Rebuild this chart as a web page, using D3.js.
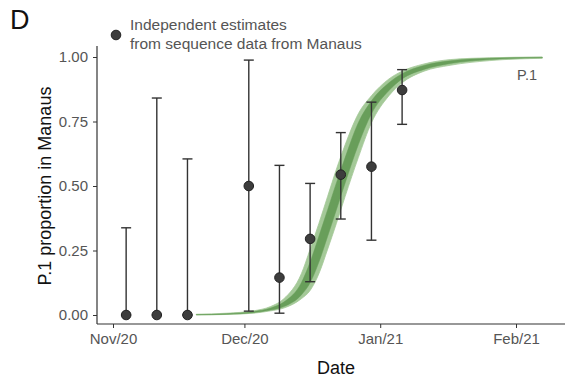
<!DOCTYPE html>
<html><head><meta charset="utf-8">
<script src="https://cdn.jsdelivr.net/npm/d3@7"></script>
<style>body{margin:0;background:#fff;} text{font-family:"Liberation Sans",Arial,sans-serif;}</style>
</head><body><svg id="c" width="568" height="378"></svg>
<script>
// Observed estimates (weekly)
const obsDates = ["2020-11-04","2020-11-11","2020-11-18","2020-12-02","2020-12-09","2020-12-16","2020-12-23","2020-12-30","2021-01-06"];
const obsValue = [0, 0, 0, 0.50, 0.145, 0.295, 0.544, 0.575, 0.872];
const obsLower = [0, 0, 0, 0.015, 0.007, 0.129, 0.372, 0.29, 0.739];
const obsUpper = [0.338, 0.841, 0.605, 0.988, 0.58, 0.51, 0.707, 0.825, 0.951];

// Model fit for P.1
const fitDates = ["2020-11-20","2020-11-27","2020-12-03","2020-12-07","2020-12-10","2020-12-14","2020-12-16","2020-12-18","2020-12-20","2020-12-22","2020-12-24","2020-12-27","2020-12-30","2021-01-03","2021-01-06","2021-01-11","2021-01-17","2021-01-26","2021-02-07"];
const fitLo95 = [0.0003,0.002,0.007,0.016,0.027,0.063,0.095,0.16,0.255,0.355,0.46,0.61,0.745,0.85,0.90,0.945,0.968,0.986,0.995];
const fitHi95 = [0.003,0.007,0.016,0.033,0.063,0.16,0.255,0.355,0.46,0.565,0.66,0.78,0.85,0.915,0.945,0.973,0.99,0.997,1.0];
const fitLo50 = [0.0007,0.003,0.009,0.019,0.033,0.078,0.125,0.205,0.305,0.408,0.512,0.66,0.78,0.87,0.915,0.952,0.975,0.990,0.997];
const fitHi50 = [0.0015,0.005,0.013,0.027,0.050,0.125,0.205,0.305,0.408,0.512,0.61,0.745,0.83,0.90,0.935,0.967,0.985,0.995,0.999];

const xTickDates = ["2020-11-01","2020-12-01","2021-01-01","2021-02-01"];
const xTickLabels = ["Nov/20","Dec/20","Jan/21","Feb/21"];
const yTicks = [0, 0.25, 0.5, 0.75, 1.0];

const parse = d3.utcParse("%Y-%m-%d");
const svg = d3.select("#c");
const panel = {left: 97, right: 565, top: 46, bottom: 324};
const FONT = "Liberation Sans, Arial, sans-serif";

const x = d3.scaleUtc().domain([parse("2020-11-01"), parse("2021-02-01")]).range([113, 516]);
const y = d3.scaleLinear().domain([0, 1]).range([315, 57]);

// Fit bands
const fit = fitDates.map((d,i)=>({d:parse(d), lo95:fitLo95[i], hi95:fitHi95[i], lo50:fitLo50[i], hi50:fitHi50[i]}));
const area95 = d3.area().x(d=>x(d.d)).y0(d=>y(d.lo95)).y1(d=>y(d.hi95)).curve(d3.curveMonotoneX);
const area50 = d3.area().x(d=>x(d.d)).y0(d=>y(d.lo50)).y1(d=>y(d.hi50)).curve(d3.curveMonotoneX);
svg.append("path").datum(fit).attr("d", area95).attr("fill", "#a4c998").attr("stroke","#a4c998").attr("stroke-width",0.8);
svg.append("path").datum(fit).attr("d", area50).attr("fill", "#689e5a").attr("stroke","#689e5a").attr("stroke-width",0.5);

// Axes lines
const axCol = "#333";
svg.append("line").attr("x1",panel.left).attr("x2",panel.left).attr("y1",panel.top).attr("y2",panel.bottom).attr("stroke",axCol).attr("stroke-width",1.2);
svg.append("line").attr("x1",panel.left).attr("x2",panel.right).attr("y1",panel.bottom).attr("y2",panel.bottom).attr("stroke",axCol).attr("stroke-width",1.2);

// Y axis
const yAxis = d3.axisLeft(y).tickValues(yTicks).tickFormat(d3.format(".2f")).tickSize(4).tickPadding(5);
const gy = svg.append("g").attr("transform",`translate(${panel.left},0)`).call(yAxis);
gy.select(".domain").remove();
gy.selectAll(".tick line").attr("stroke",axCol);
gy.selectAll(".tick text").attr("fill","#555").attr("font-size",15).attr("font-family",FONT);

// X axis
const xAxis = d3.axisBottom(x).tickValues(xTickDates.map(parse)).tickFormat((d,i)=>xTickLabels[i]).tickSize(4).tickPadding(5);
const gx = svg.append("g").attr("transform",`translate(0,${panel.bottom})`).call(xAxis);
gx.select(".domain").remove();
gx.selectAll(".tick line").attr("stroke",axCol);
gx.selectAll(".tick text").attr("fill","#555").attr("font-size",15).attr("font-family",FONT);

// Error bars + points
const obs = obsDates.map((d,i)=>({d:parse(d), v:obsValue[i], lo:obsLower[i], hi:obsUpper[i]}));
const eb = svg.append("g").attr("stroke","#333").attr("stroke-width",1.4);
obs.forEach(o=>{
  const cx = x(o.d);
  eb.append("line").attr("x1",cx).attr("x2",cx).attr("y1",y(o.lo)).attr("y2",y(o.hi));
  eb.append("line").attr("x1",cx-5).attr("x2",cx+5).attr("y1",y(o.hi)).attr("y2",y(o.hi));
  eb.append("line").attr("x1",cx-5).attr("x2",cx+5).attr("y1",y(o.lo)).attr("y2",y(o.lo));
});
svg.append("g").selectAll("circle").data(obs).join("circle")
  .attr("cx",d=>x(d.d)).attr("cy",d=>y(d.v)).attr("r",4.8)
  .attr("fill","#3d3d3d").attr("stroke","#222").attr("stroke-width",1);

// Labels
svg.append("text").attr("x",537).attr("y",80).attr("text-anchor","end").attr("fill","#555").attr("font-size",14.5).text("P.1");
svg.append("text").attr("x",10).attr("y",29).attr("fill","#111").attr("font-size",27).text("D");
svg.append("circle").attr("cx",116).attr("cy",35).attr("r",4.8).attr("fill","#3d3d3d").attr("stroke","#222");
svg.append("text").attr("x",130).attr("y",30).attr("fill","#555").attr("font-size",15.5).text("Independent estimates");
svg.append("text").attr("x",130).attr("y",49).attr("fill","#555").attr("font-size",15.5).text("from sequence data from Manaus");
svg.append("text").attr("x",336).attr("y",374).attr("text-anchor","middle").attr("fill","#111").attr("font-size",18).text("Date");
svg.append("text").attr("transform",`translate(51,${(57+315)/2}) rotate(-90)`).attr("text-anchor","middle").attr("fill","#111").attr("font-size",18).text("P.1 proportion in Manaus");
</script></body></html>
